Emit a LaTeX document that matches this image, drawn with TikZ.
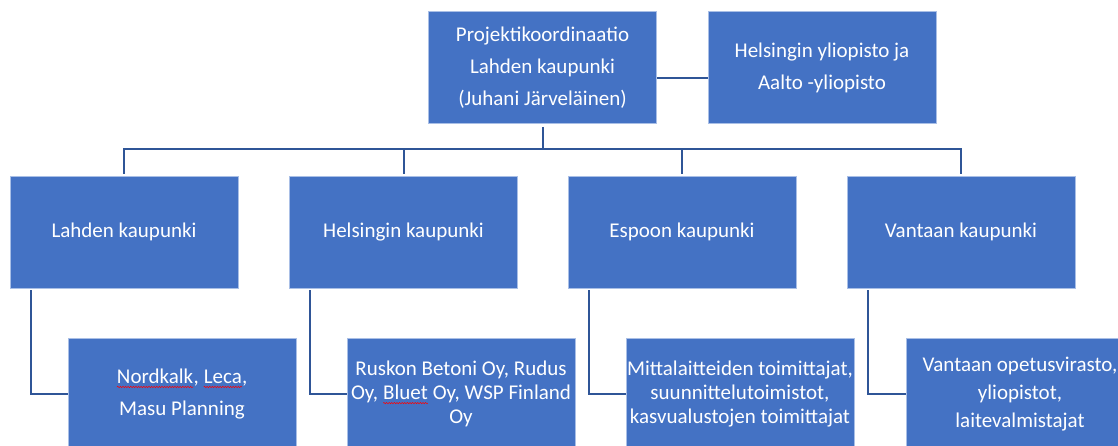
\documentclass[tikz,border=0pt]{standalone}
\usepackage{fontspec}
\setmainfont{Carlito}
\usetikzlibrary{decorations.pathmorphing}
\definecolor{boxblue}{HTML}{4472C4}
\definecolor{boxedge}{HTML}{A9BFE6}
\definecolor{linkblue}{HTML}{2F5597}
\newcommand\spellwave[1]{\tikz[baseline=(w.base), x=1cm, y=1cm]{%
    \node[inner sep=0pt, outer sep=0pt, minimum width=0pt, minimum height=0pt,
        draw=none, fill=none, text=white, anchor=base] (w) {#1};%
    \draw[red, line width=0.5pt, decorate, decoration={snake, amplitude=0.7pt, segment length=2.6pt}]
        ([yshift=-3.5pt]w.base west) -- ([yshift=-3.5pt]w.base east);}}
\tikzset{
    orgbox/.style={draw=boxedge, line width=0.6pt, fill=boxblue, text=white,
        minimum width=228pt, minimum height=112pt, inner sep=1pt, align=center,
        font=\fontsize{21}{32}\selectfont},
    partbox/.style={orgbox, font=\fontsize{21}{24}\selectfont},
    link/.style={draw=linkblue, line width=2pt}
}
\begin{document}
\begin{tikzpicture}[x=1pt, y=-1pt]
    \useasboundingbox (0,0) rectangle (1118,446);
    \clip (0,0) rectangle (1118,446);

    % Coordination and partner
    \node[orgbox] (coord) at (542.5, 67.5) {Projektikoordinaatio\\Lahden kaupunki\\(Juhani Järveläinen)};
    \node[orgbox] (uni) at (822, 67.5) {Helsingin yliopisto ja\\Aalto -yliopisto};
    \draw[link] ([yshift=-10.5pt]coord.east) -- ([yshift=-10.5pt]uni.west);

    % Cities
    \node[orgbox] (lahti) at (124, 232) {Lahden kaupunki};
    \node[orgbox] (hki) at (403.5, 232) {Helsingin kaupunki};
    \node[orgbox] (espoo) at (682, 232) {Espoon kaupunki};
    \node[orgbox] (vantaa) at (961, 232) {Vantaan kaupunki};

    % Bus from coordination to cities
    \coordinate (bus) at (542.5, 149);
    \draw[link] ([yshift=-3pt]coord.south) -- (bus);
    \draw[link] ([yshift=2pt]lahti.north) |- (bus) -| ([yshift=2pt]vantaa.north);
    \draw[link] ([yshift=2pt]hki.north) -- (hki.north |- bus);
    \draw[link] ([yshift=2pt]espoo.north) -- (espoo.north |- bus);

    % Partners of each city
    \node[orgbox] (lahtip) at (182, 394) {\spellwave{Nordkalk}, \spellwave{Leca},\\Masu Planning};
    \node[partbox] (hkip) at (461, 394) {Ruskon Betoni Oy, Rudus\\Oy, \spellwave{Bluet} Oy, WSP Finland\\Oy};
    \node[partbox] (espoop) at (740, 394) {Mittalaitteiden toimittajat,\\suunnittelutoimistot,\\kasvualustojen toimittajat};
    \node[partbox, font=\fontsize{21}{28}\selectfont] (vantaap) at (1020, 394) {Vantaan opetusvirasto,\\yliopistot,\\laitevalmistajat};

    \draw[link] ([xshift=21pt, yshift=-2pt]lahti.south west) |- (lahtip.west);
    \draw[link] ([xshift=21pt, yshift=-2pt]hki.south west) |- (hkip.west);
    \draw[link] ([xshift=21pt, yshift=-2pt]espoo.south west) |- (espoop.west);
    \draw[link] ([xshift=21pt, yshift=-2pt]vantaa.south west) |- (vantaap.west);
\end{tikzpicture}
\end{document}
